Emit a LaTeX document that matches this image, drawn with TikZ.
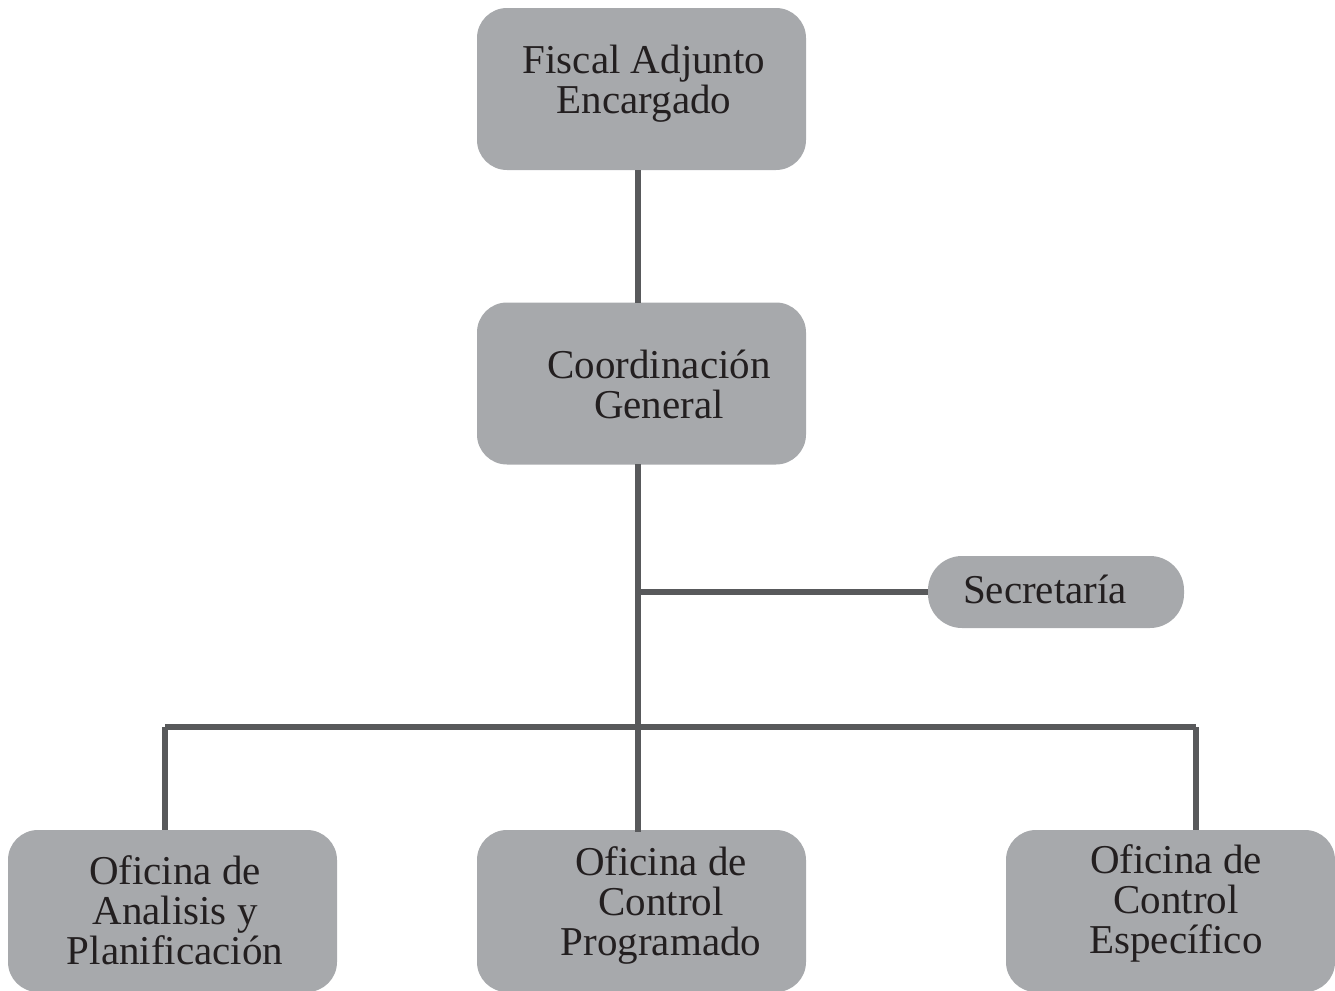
\documentclass[tikz,border=0pt]{standalone}
\usepackage{fontspec}
\setmainfont{Liberation Serif}
\usetikzlibrary{calc}
\definecolor{boxgray}{HTML}{A7A9AC}
\definecolor{linegray}{HTML}{58595B}
\definecolor{txt}{HTML}{231F20}
\begin{document}
\begin{tikzpicture}[x=0.5pt,y=-0.5pt,
  orgbox/.style={rectangle,rounded corners=15pt,fill=boxgray,draw=none,minimum width=164.5pt,minimum height=81pt,inner sep=0pt},
  secbox/.style={rectangle,rounded corners=17pt,fill=boxgray,draw=none,minimum width=128pt,minimum height=36pt,inner sep=0pt},
  lbl/.style={align=center,text=txt,inner sep=0pt,font=\fontsize{20.5}{20}\selectfont},
  conn/.style={draw=linegray,line width=2.6pt}]
\useasboundingbox (0,0) rectangle (1335,991);
% boxes
\node[orgbox] (fiscal) at (641.5,89) {};
\node[orgbox] (coord) at (641.5,383.5) {};
\node[secbox] (sec) at (1056,592) {};
\node[orgbox] (ana) at (172.5,911) {};
\node[orgbox] (prog) at (641.5,911) {};
\node[orgbox] (esp) at (1170.5,911) {};
% labels
\node[lbl] (fiscalT) at (644,84) {Fiscal Adjunto\\Encargado};
\node[lbl] (coordT) at (659,384) {Coordinación\\General};
\node[lbl] (secT) at (1045,589) {Secretaría};
\node[lbl] (anaT) at (175,910) {Oficina de\\Analisis y\\Planificación};
\node[lbl] (progT) at (661,905) {Oficina de\\Control\\Programado};
\node[lbl] (espT) at (1176,903) {Oficina de\\Control\\Específico};
% connectors
\coordinate (js) at (638,592);
\coordinate (jb) at (638,727);
\coordinate (bl) at (165,727);
\coordinate (br) at (1196,727);
\draw[conn] (638,170) -- (638,303);
\draw[conn] (638,464) -- (638,832);
\draw[conn] (js) -- (sec.west);
\draw[conn] (bl) -- (br);
\draw[conn] (bl) -- (bl |- ana.north);
\draw[conn] (br) -- (br |- esp.north);
\end{tikzpicture}
\end{document}
